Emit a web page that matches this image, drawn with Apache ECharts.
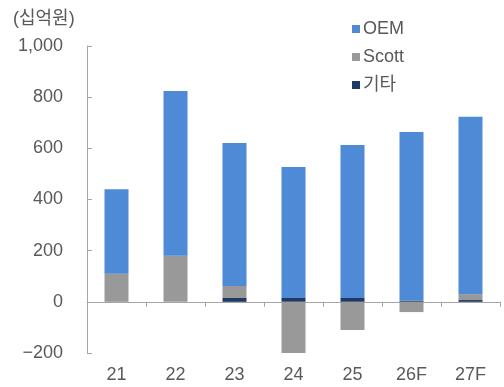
<!DOCTYPE html>
<html>
<head>
<meta charset="utf-8">
<script src="https://cdn.jsdelivr.net/npm/echarts@6/dist/echarts.min.js"></script>
<style>
  html, body { margin: 0; padding: 0; background: #fff; }
  #chart { width: 504px; height: 387px; }
</style>
</head>
<body>
<div id="chart"></div>
<script>
// Years (F = forecast)
const categories = ['21', '22', '23', '24', '25', '26F', '27F'];
// Segment values, 십억원
const otherValues = [0, 0, 15, 15, 15, 5, 7];
const scottValues = [110, 180, 47, -203, -110, -40, 23];
const oemValues = [330, 644, 559, 512, 598, 659, 693];
const yTicks = { min: -200, max: 1000, interval: 200 };

const FONT = '"Liberation Sans", Arial, "Noto Sans CJK KR", sans-serif';
const textColor = '#595959';
const axisColor = '#a6a6a6';

const chart = echarts.init(document.getElementById('chart'), null, { renderer: 'canvas' });

chart.setOption({
  animation: false,
  textStyle: { fontFamily: FONT },
  title: {
    text: '(십억원)',
    left: 8, top: 5,
    textStyle: { fontSize: 18, fontWeight: 'normal', color: textColor, fontFamily: FONT }
  },
  legend: {
    orient: 'vertical',
    left: 347, top: 15,
    itemWidth: 8, itemHeight: 8, itemGap: 10,
    icon: 'rect',
    textStyle: { fontSize: 18, color: textColor, fontFamily: FONT, padding: [0, 0, 0, -2] },
    data: ['OEM', 'Scott', '기타']
  },
  grid: { left: 87, right: 4, top: 46, bottom: 34, containLabel: false },
  xAxis: [
    {
      type: 'category',
      data: categories,
      position: 'bottom',
      axisLine: { show: false, onZero: false },
      axisTick: { show: false },
      axisLabel: { fontSize: 18, color: textColor, margin: 13, fontFamily: FONT }
    },
    {
      type: 'category',
      data: categories,
      axisLine: { show: true, onZero: true, lineStyle: { color: axisColor, width: 1 } },
      axisTick: { show: true, inside: true, length: 5, lineStyle: { color: axisColor } },
      axisLabel: { show: false }
    }
  ],
  yAxis: {
    type: 'value',
    min: yTicks.min, max: yTicks.max, interval: yTicks.interval,
    axisLine: { show: true, lineStyle: { color: axisColor, width: 1 } },
    axisTick: { show: true, inside: true, length: 5, lineStyle: { color: axisColor } },
    splitLine: { show: false },
    axisLabel: {
      fontSize: 18, color: textColor, margin: 24, fontFamily: FONT,
      formatter: v => (v < 0 ? '\u2212' : '') + Math.abs(v).toLocaleString('en-US')
    }
  },
  series: [
    {
      name: '기타', type: 'bar', stack: 'total', barWidth: 24,
      itemStyle: { color: '#1f3a63' }, data: otherValues
    },
    {
      name: 'Scott', type: 'bar', stack: 'total', barWidth: 24,
      itemStyle: { color: '#999999' }, data: scottValues
    },
    {
      name: 'OEM', type: 'bar', stack: 'total', barWidth: 24,
      itemStyle: { color: '#4f8ad6' }, data: oemValues
    }
  ]
});
</script>
</body>
</html>
